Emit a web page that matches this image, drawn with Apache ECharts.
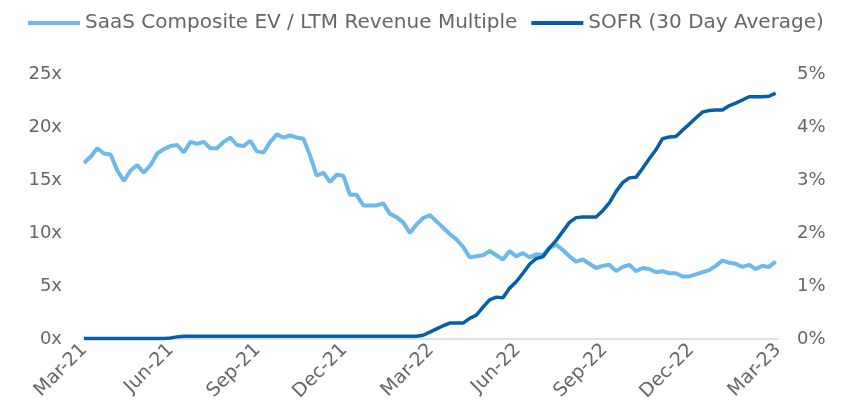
<!DOCTYPE html>
<html>
<head>
<meta charset="utf-8">
<script src="https://cdn.jsdelivr.net/npm/echarts@6/dist/echarts.min.js"></script>
<style>
  html, body { margin: 0; padding: 0; background: #fff; }
  #main { width: 852px; height: 420px; }
</style>
</head>
<body>
<div id="main"></div>
<script>
// weekly readings, first one at start of Mar-21
var saasMultiple = [
  16.6, 17.2, 18.0, 17.5, 17.4, 15.9, 14.9, 15.9, 16.4, 15.7,
  16.4, 17.5, 17.9, 18.2, 18.3, 17.6, 18.6, 18.4, 18.6, 18.0,
  18.0, 18.6, 19.0, 18.3, 18.2, 18.7, 17.7, 17.6, 18.6, 19.3,
  19.0, 19.2, 19.0, 18.9, 17.3, 15.4, 15.7, 14.8, 15.5, 15.4,
  13.6, 13.6, 12.6, 12.6, 12.6, 12.8, 11.8, 11.5, 11.0, 10.0,
  10.8, 11.4, 11.7, 11.1, 10.5, 9.9, 9.4, 8.7, 7.7, 7.8,
  7.9, 8.3, 7.9, 7.5, 8.3, 7.8, 8.1, 7.7, 8.0, 7.9,
  8.6, 8.9, 8.4, 7.8, 7.3, 7.5, 7.1, 6.7, 6.9, 7.0,
  6.4, 6.8, 7.0, 6.4, 6.7, 6.6, 6.3, 6.4, 6.2, 6.2,
  5.9, 5.9, 6.1, 6.3, 6.5, 6.9, 7.4, 7.2, 7.1, 6.8,
  7.0, 6.6, 6.9, 6.8, 7.3
];
var sofr = [
  0.01, 0.01, 0.01, 0.01, 0.01, 0.01, 0.01, 0.01, 0.01, 0.01,
  0.01, 0.01, 0.01, 0.02, 0.04, 0.05, 0.05, 0.05, 0.05, 0.05,
  0.05, 0.05, 0.05, 0.05, 0.05, 0.05, 0.05, 0.05, 0.05, 0.05,
  0.05, 0.05, 0.05, 0.05, 0.05, 0.05, 0.05, 0.05, 0.05, 0.05,
  0.05, 0.05, 0.05, 0.05, 0.05, 0.05, 0.05, 0.05, 0.05, 0.05,
  0.05, 0.07, 0.13, 0.19, 0.25, 0.30, 0.30, 0.30, 0.39, 0.45,
  0.60, 0.74, 0.79, 0.78, 0.96, 1.08, 1.24, 1.41, 1.52, 1.55,
  1.72, 1.86, 2.03, 2.20, 2.29, 2.30, 2.30, 2.30, 2.42, 2.57,
  2.78, 2.95, 3.04, 3.05, 3.22, 3.40, 3.57, 3.78, 3.81, 3.82,
  3.94, 4.05, 4.17, 4.28, 4.31, 4.32, 4.32, 4.40, 4.45, 4.51,
  4.57, 4.57, 4.57, 4.58, 4.64
];
// one label every 3 months
var tickLabels = ['Mar-21','Jun-21','Sep-21','Dec-21','Mar-22','Jun-22','Sep-22','Dec-22','Mar-23'];

var MONTH_DAYS = 365.25 / 12;
function weekly(vals) {
  return vals.map(function (v, i) { return [i * 7 / MONTH_DAYS, v]; });
}

var txt = '#666666';
var font = 'DejaVu Sans';

var myChart = echarts.init(document.getElementById('main'));
var option = {
  animation: false,
  textStyle: { fontFamily: font },
  legend: {
    top: 8,
    left: 'center',
    itemWidth: 52,
    itemHeight: 4,
    itemGap: 14,
    icon: 'rect',
    textStyle: { color: txt, fontSize: 20, fontFamily: font },
    data: ['SaaS Composite EV / LTM Revenue Multiple', 'SOFR (30 Day Average)']
  },
  grid: { left: 84, right: 74, top: 74, bottom: 81 },
  xAxis: {
    type: 'value',
    min: 0,
    max: 24,
    interval: 3,
    axisLine: { lineStyle: { color: '#D9E1F2', width: 2 } },
    axisTick: { show: false },
    splitLine: { show: false },
    axisLabel: {
      rotate: 45,
      margin: 8,
      color: txt,
      fontSize: 19,
      fontFamily: font,
      formatter: function (val) {
        return tickLabels[Math.round(val / 3)] || '';
      }
    }
  },
  yAxis: [{
    type: 'value',
    min: 0, max: 25, interval: 5,
    axisLine: { show: false },
    axisTick: { show: false },
    splitLine: { show: false },
    axisLabel: { color: txt, fontSize: 18, fontFamily: font, margin: 22, formatter: '{value}x' }
  }, {
    type: 'value',
    min: 0, max: 5, interval: 1,
    axisLine: { show: false },
    axisTick: { show: false },
    splitLine: { show: false },
    axisLabel: { color: txt, fontSize: 18, fontFamily: font, margin: 19, formatter: '{value}%' }
  }],
  series: [{
    name: 'SaaS Composite EV / LTM Revenue Multiple',
    type: 'line',
    yAxisIndex: 0,
    showSymbol: false,
    color: '#6DB9EA',
    lineStyle: { width: 4, color: '#6DB9EA' },
    data: weekly(saasMultiple)
  }, {
    name: 'SOFR (30 Day Average)',
    type: 'line',
    yAxisIndex: 1,
    showSymbol: false,
    color: '#065FA6',
    lineStyle: { width: 3.5, color: '#065FA6' },
    data: weekly(sofr)
  }]
};
myChart.setOption(option);
</script>
</body>
</html>
